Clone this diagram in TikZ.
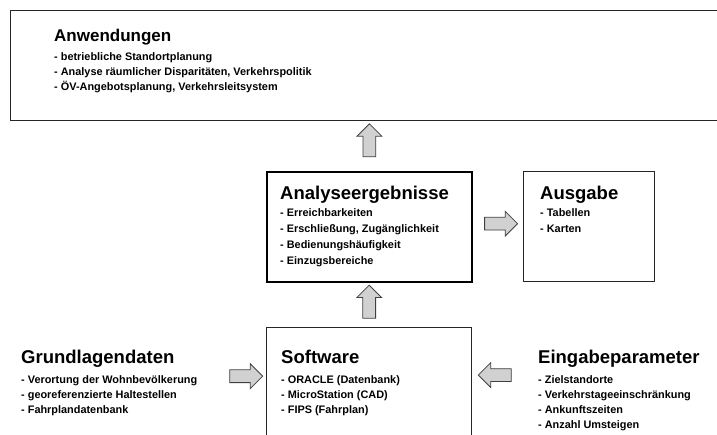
\documentclass[tikz,border=0pt]{standalone}
\usepackage{fontspec}
\setmainfont{Liberation Sans}
\usetikzlibrary{shapes.arrows,calc,positioning}

\tikzset{
  box/.style={draw=black!85, line width=1pt, anchor=north west, inner sep=0pt},
  boxthick/.style={box, draw=black, line width=1.8pt},
  ttl/.style={anchor=base west, inner sep=0pt, font=\bfseries\fontsize{18.5}{20}\selectfont},
  itm/.style={anchor=base west, inner sep=0pt, font=\bfseries\fontsize{10.9}{12}\selectfont},
  blockarrow/.style={single arrow, draw=black!75, fill=black!18, line width=0.8pt,
    inner sep=0pt, text height=6pt, text depth=6pt, text width=0pt,
    single arrow head extend=6pt, minimum height=33pt}
}

\begin{document}
\begin{tikzpicture}[x=1pt,y=-1pt]
\useasboundingbox (0,0) rectangle (717,435);
\fill[white] (0,0) rectangle (717,435);

% boxes
\node[box, minimum width=720pt, minimum height=110pt] (anw) at (10,10) {};
\node[boxthick, minimum width=205pt, minimum height=110pt] (ana) at (266,171) {};
\node[box, minimum width=131pt, minimum height=110pt] (ausg) at (523,171) {};
\node[box, minimum width=205pt, minimum height=120pt] (soft) at (266,327) {};

% titles
\node[ttl, font=\bfseries\fontsize{17}{20}\selectfont] (anwt) at ($(anw.north west)+(44,32)$) {Anwendungen};
\node[ttl] (anat) at ($(ana.north west)+(14,29)$) {Analyseergebnisse};
\node[ttl] (ausgt) at ($(ausg.north west)+(17,29)$) {Ausgabe};
\node[ttl] (softt) at ($(soft.north west)+(15,36)$) {Software};
\node[ttl] (grundt) at (21,363) {Grundlagendaten};
\node[ttl] (eingt) at (538,363) {Eingabeparameter};

% lists
\foreach \t [count=\i] in {- betriebliche Standortplanung,
    {- Analyse räumlicher Disparitäten, Verkehrspolitik},
    {- ÖV-Angebotsplanung, Verkehrsleitsystem}}
  \node[itm] (anw-\i) at ($(anwt.base west)+(0,{19+15*(\i-1)})$) {\t};
\foreach \t [count=\i] in {- Erreichbarkeiten, {- Erschließung, Zugänglichkeit},
    - Bedienungshäufigkeit, - Einzugsbereiche}
  \node[itm] (ana-\i) at ($(anat.base west)+(0,{17+16*(\i-1)})$) {\t};
\foreach \t [count=\i] in {- Tabellen, - Karten}
  \node[itm] (ausg-\i) at ($(ausgt.base west)+(0,{17+16*(\i-1)})$) {\t};
\foreach \t [count=\i] in {- ORACLE (Datenbank), - MicroStation (CAD), - FIPS (Fahrplan)}
  \node[itm] (soft-\i) at ($(softt.base west)+(0,{20+15*(\i-1)})$) {\t};
\foreach \t [count=\i] in {- Verortung der Wohnbevölkerung, - georeferenzierte Haltestellen,
    - Fahrplandatenbank}
  \node[itm] (grund-\i) at ($(grundt.base west)+(0,{20+15*(\i-1)})$) {\t};
\foreach \t [count=\i] in {- Zielstandorte, - Verkehrstageeinschränkung,
    - Ankunftszeiten, - Anzahl Umsteigen}
  \node[itm] (eing-\i) at ($(eingt.base west)+(0,{20+15*(\i-1)})$) {\t};

% block arrows
\node[blockarrow, rotate=90] (up1) at ($(ana.north |- anw.south)!0.45!(ana.north)$) {};
\node[blockarrow, rotate=90] (up2) at ($(ana.south)!0.5!(soft.north)$) {};
\node[blockarrow] (toausg) at ($(ana.east)!0.5!(ausg.west)+(0,-3)$) {};
\node[blockarrow] (tosoft) at ($(grund-1.west -| soft.west)+(-23,-4)$) {};
\node[blockarrow, rotate=180] (fromeing) at ($(soft.east |- eing-1.west)+(26,-4)$) {};

\end{tikzpicture}
\end{document}
